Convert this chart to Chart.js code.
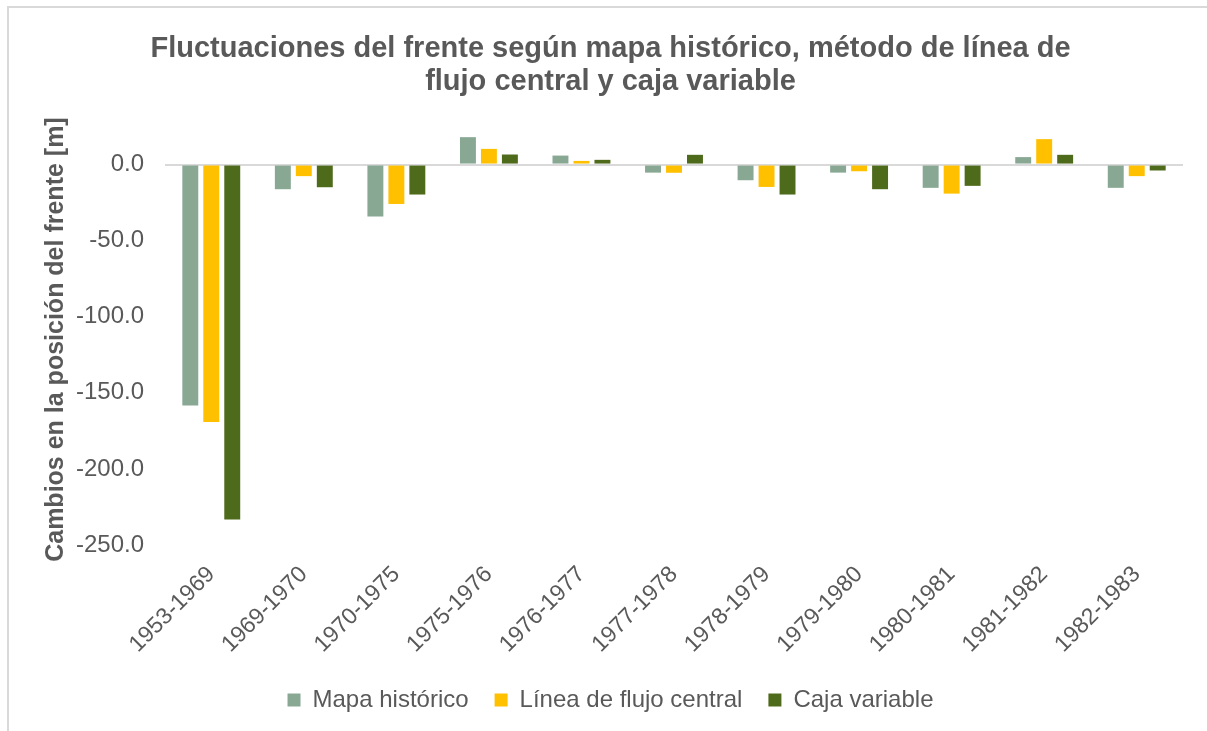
<!DOCTYPE html>
<html>
<head>
<meta charset="utf-8">
<script src="https://cdn.jsdelivr.net/npm/chart.js@4.4.1/dist/chart.umd.min.js"></script>
<style>
  html, body { margin: 0; padding: 0; background: #fff; }
  #frame { position: absolute; left: 7px; top: 6px; width: 1400px; height: 900px;
           border-left: 2px solid #d9d9d9; border-top: 2px solid #d9d9d9; }
  #wrap { position: absolute; left: 0; top: 0; width: 1207px; height: 731px; }
</style>
</head>
<body>
<div id="frame"></div>
<div id="wrap"><canvas id="myChart"></canvas></div>
<script>
// Periods on the x axis
const periods = ['1953-1969', '1969-1970', '1970-1975', '1975-1976', '1976-1977', '1977-1978',
                 '1978-1979', '1979-1980', '1980-1981', '1981-1982', '1982-1983'];

// Front position changes [m]
const mapaHistorico = [-158.3, -16.2, -34.2, 18.0, 5.9, -5.3, -10.3, -5.3, -15.3, 4.9, -15.3];
const lineaFlujo = [-169.1, -7.6, -25.9, 10.3, 2.4, -5.4, -14.7, -4.4, -19.1, 16.7, -7.6];
const cajaVariable = [-233.3, -14.9, -19.7, 6.6, 3.1, 6.4, -19.7, -16.2, -14.0, 6.4, -3.9];

// Y axis range and visible tick step
const yMin = -250;
const yMax = 20;
const yStep = 50;

const textColor = '#595959';
const fontFamily = 'Liberation Sans, Arial, sans-serif';

const ctx = document.getElementById('myChart').getContext('2d');

new Chart(ctx, {
    type: 'bar',
    data: {
        labels: periods,
        datasets: [
            { label: 'Mapa histórico', data: mapaHistorico, backgroundColor: '#88a894' },
            { label: 'Línea de flujo central', data: lineaFlujo, backgroundColor: '#ffc000' },
            { label: 'Caja variable', data: cajaVariable, backgroundColor: '#4e6a1b' }
        ]
    },
    options: {
        responsive: true,
        maintainAspectRatio: false,
        animation: false,
        layout: { padding: { left: 38, right: 24, top: 0, bottom: 9 } },
        datasets: {
            bar: { categoryPercentage: 0.68, barPercentage: 0.76 }
        },
        plugins: {
            title: {
                display: true,
                text: ['Fluctuaciones del frente según mapa histórico, método de línea de',
                       'flujo central y caja variable'],
                color: textColor,
                font: { family: fontFamily, size: 29, weight: 'bold', lineHeight: 1.14 },
                padding: { top: 32, bottom: 36 }
            },
            legend: {
                position: 'bottom',
                labels: {
                    color: textColor,
                    boxWidth: 13,
                    boxHeight: 13,
                    padding: 26,
                    font: { family: fontFamily, size: 24 }
                }
            },
            tooltip: { enabled: false }
        },
        scales: {
            x: {
                grid: { display: false },
                border: { display: false },
                ticks: {
                    color: textColor,
                    autoSkip: false,
                    minRotation: 45,
                    maxRotation: 45,
                    padding: 8,
                    font: { family: fontFamily, size: 23 }
                },
                afterFit: function (scale) {
                    // keep the plot bottom at -250
                    scale.height = 731 - 545 - scale.chart.legend.height - 9;
                }
            },
            y: {
                min: yMin,
                max: yMax,
                grid: {
                    drawTicks: false,
                    color: c => (c.tick && c.tick.value === 0 ? '#d9d9d9' : 'rgba(0,0,0,0)'),
                    lineWidth: 2
                },
                border: { display: false },
                ticks: {
                    stepSize: yStep,
                    color: textColor,
                    padding: 21,
                    font: { family: fontFamily, size: 24 },
                    callback: v => v.toFixed(1)
                },
                afterBuildTicks: function (scale) {
                    scale.ticks = scale.ticks.filter(t => t.value <= 0);
                },
                afterFit: function (scale) {
                    scale.width = 165 - 38;
                },
                title: {
                    display: true,
                    text: 'Cambios en la posición del frente [m]',
                    color: textColor,
                    font: { family: fontFamily, size: 25, weight: 'bold' },
                    padding: { top: 3, bottom: 0 }
                }
            }
        }
    }
});
</script>
</body>
</html>
